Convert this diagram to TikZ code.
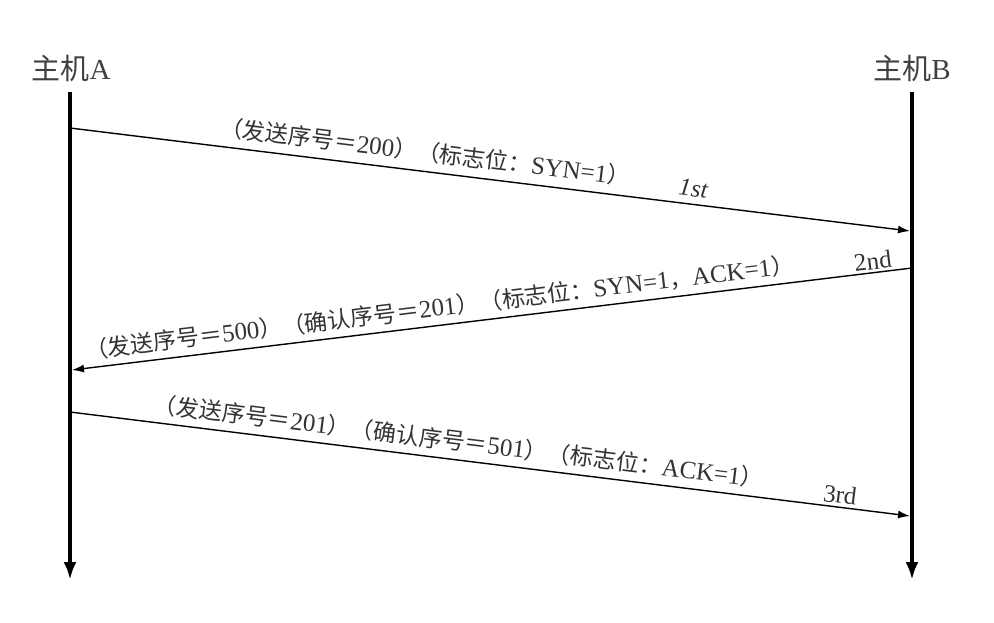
\documentclass[tikz,border=0pt]{standalone}
\usepackage{fontspec}
\setmainfont{Liberation Serif}
\newfontfamily\cjk{Noto Sans CJK SC}
\usetikzlibrary{arrows.meta}
\newcommand{\zh}[1]{{\fontsize{23}{28}\selectfont\cjk #1}}
\begin{document}
\begin{tikzpicture}[x=1pt,y=-1pt,
    lifeline/.style={line width=4pt,-{Latex[length=18pt,width=13pt]}},
    msg/.style={line width=1.4pt,-{Latex[length=12pt,width=8pt]}},
    lbl/.style={sloped,inner sep=1pt,text=black!80,font=\fontsize{25}{28}\selectfont},
    host/.style={text=black!75,font=\fontsize{29}{32}\selectfont}]
  \useasboundingbox (0,0) rectangle (994,622);

  \node[host] (hostA) at (71,68) {{\cjk 主机}A};
  \node[host] (hostB) at (912,68) {{\cjk 主机}B};

  \coordinate (topA) at (70,92);
  \coordinate (endA) at (70,580);
  \coordinate (topB) at (912,92);
  \coordinate (endB) at (912,580);
  \draw[lifeline] (topA) -- (endA);
  \draw[lifeline] (topB) -- (endB);

  \coordinate (a1) at (70,128);
  \coordinate (b1) at (910,231);
  \coordinate (b2) at (912,268);
  \coordinate (a2) at (72,370);
  \coordinate (a3) at (70,412);
  \coordinate (b3) at (910,516);

  % 1st
  \draw[msg] (a1) --
    node[lbl,pos=0.42,above=7pt] {\zh{（发送序号＝}200\zh{）（标志位：}SYN=1\zh{）}}
    node[lbl,pos=0.74,above=6pt] {\textit{1st}} (b1);
  % 2nd
  \draw[msg] (b2) --
    node[lbl,pos=0.56,above=5pt] {\zh{（发送序号＝}500\zh{）（确认序号＝}201\zh{）（标志位：}SYN=1\zh{，}ACK=1\zh{）}}
    node[lbl,pos=0.045,above=1pt] {2nd} (a2);
  % 3rd
  \draw[msg] (a3) --
    node[lbl,pos=0.46,above=6pt] {\zh{（发送序号＝}201\zh{）（确认序号＝}501\zh{）（标志位：}ACK=1\zh{）}}
    node[lbl,pos=0.915,above=2pt] {3rd} (b3);
\end{tikzpicture}
\end{document}
